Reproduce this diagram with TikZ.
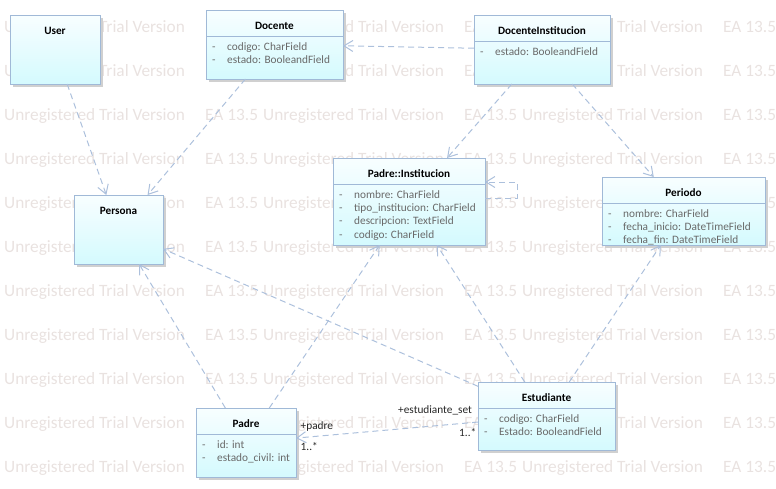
\documentclass[tikz,border=0pt]{standalone}
\usepackage{fontspec}
\setmainfont{Carlito}
\usetikzlibrary{arrows.meta,shadows}

\definecolor{boxline}{RGB}{160,185,215}
\definecolor{boxtop}{RGB}{248,254,255}
\definecolor{boxbot}{RGB}{212,250,254}
\definecolor{connline}{RGB}{172,192,220}
\definecolor{wmark}{RGB}{233,226,224}
\definecolor{shadowgray}{RGB}{208,208,208}
\definecolor{attrgray}{RGB}{105,105,105}

% one compartment line per attribute, below the header of a class box
\newcommand\classattrs[2]{%
  \foreach \t [count=\i] in {#2} {
    \node[attrtxt] (#1-m\i) at ([xshift=6pt,yshift={-40.5-13.2*(\i-1)}]#1.north west) {-};
    \node[attrtxt] (#1-a\i) at ([xshift=21pt,yshift={-40.5-13.2*(\i-1)}]#1.north west) {\t};
  }%
}
% header text and divider of a class box
\newcommand\classhead[2]{%
  \node[ctitle] (#1-t) at ([yshift=-19.5pt]#1.north) {#2};
}
\newcommand\classdivider[1]{%
  \draw[divider] ([yshift=-26.5pt]#1.north west) -- ([yshift=-26.5pt]#1.north east);
}

\begin{document}
\begin{tikzpicture}[x=1pt,y=-1pt,
  classbox/.style={draw=boxline, line width=1pt, top color=boxtop, bottom color=boxbot,
    anchor=north west, inner sep=0pt, outer sep=0pt,
    general shadow={fill=shadowgray, shadow xshift=3pt, shadow yshift=-3pt}},
  ctitle/.style={anchor=base, inner sep=0pt, font=\fontsize{11.2}{13}\selectfont\bfseries, text=black},
  attrtxt/.style={anchor=base west, inner sep=0pt, font=\fontsize{11.3}{13}\selectfont, text=attrgray},
  roletxt/.style={anchor=base west, inner sep=0pt, font=\fontsize{11.3}{13}\selectfont, text=black!85},
  divider/.style={draw=boxline, line width=1pt},
  wm/.style={anchor=base west, inner sep=0pt, font=\fontsize{17.3}{20}\selectfont, text=wmark},
  conn/.style={draw=connline, line width=1pt, dash pattern=on 6pt off 4pt,
    -{Straight Barb[length=9pt,width=11pt]}},
]
\useasboundingbox (0,0) rectangle (776,488);

% background watermark rows
\foreach \r in {0,...,10} {
  \foreach \c in {0,1,2} {
    \node[wm] (wmu-\r-\c) at ({4+259*\c},{32+44*\r}) {Unregistered Trial Version};
    \node[wm] (wme-\r-\c) at ({205+259*\c},{32+44*\r}) {EA 13.5};
  }
}

% classes
\node[classbox, minimum width=90pt,  minimum height=69pt] (user)    at (10,15)   {};
\node[classbox, minimum width=137pt, minimum height=69pt] (docente) at (206,10)  {};
\node[classbox, minimum width=136pt, minimum height=69pt] (docinst) at (474,15)  {};
\node[classbox, minimum width=89pt,  minimum height=69pt] (persona) at (74,195)  {};
\node[classbox, minimum width=152pt, minimum height=87pt] (inst)    at (333,158) {};
\node[classbox, minimum width=163pt, minimum height=68pt] (periodo) at (602,177) {};
\node[classbox, minimum width=100pt, minimum height=69pt] (padre)   at (196,408) {};
\node[classbox, minimum width=137pt, minimum height=68pt] (estud)   at (478,382) {};

\classhead{user}{User}
\classhead{persona}{Persona}

\classhead{docente}{Docente}
\classdivider{docente}
\classattrs{docente}{codigo: CharField, estado: BooleandField}

\classhead{docinst}{DocenteInstitucion}
\classdivider{docinst}
\classattrs{docinst}{estado: BooleandField}

\classhead{inst}{Padre::Institucion}
\classdivider{inst}
\classattrs{inst}{nombre: CharField, tipo\_institucion: CharField, descripcion: TextField, codigo: CharField}

\classhead{periodo}{Periodo}
\classdivider{periodo}
\classattrs{periodo}{nombre: CharField, fecha\_inicio: DateTimeField, fecha\_fin: DateTimeField}

\classhead{padre}{Padre}
\classdivider{padre}
\classattrs{padre}{id: int, estado\_civil: int}

\classhead{estud}{Estudiante}
\classdivider{estud}
\classattrs{estud}{codigo: CharField, Estado: BooleandField}

% dependencies
\draw[conn] (user) -- (persona);
\draw[conn] (docente) -- (persona);
\draw[conn] (docinst) -- (docente);
\draw[conn] (docinst) -- (inst);
\draw[conn] (docinst) -- (periodo);
\draw[conn] ([yshift=3.5pt]inst.east) -- ++(32,0) |- ([yshift=19.5pt]inst.east);
\draw[conn] (padre) -- (inst);
\draw[conn] (padre) -- (persona);
\draw[conn] (estud) -- (persona);
\draw[conn] (estud) -- (inst);
\draw[conn] (estud) -- (periodo);

% association between Estudiante and Padre
\draw[conn] (estud) -- (padre);
\node[roletxt] (role-est)  at (398,413.5) {+estudiante\_set};
\node[roletxt] (mult-est)  at (459,436.5) {1..*};
\node[roletxt] (role-pad)  at (300.5,429.5) {+padre};
\node[roletxt] (mult-pad)  at (300.5,450.5) {1..*};
\end{tikzpicture}
\end{document}
